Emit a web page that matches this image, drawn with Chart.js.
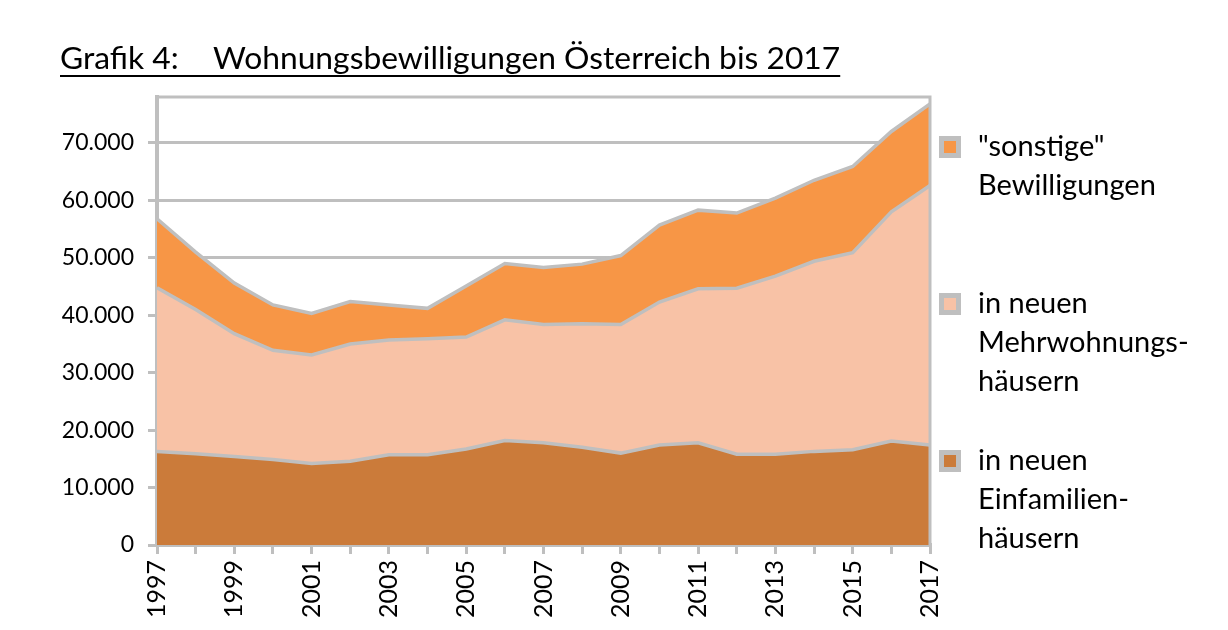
<!DOCTYPE html>
<html><head><meta charset="utf-8">
<script src="https://cdn.jsdelivr.net/npm/chart.js@4.4.1/dist/chart.umd.min.js"></script>
<style>html,body{margin:0;padding:0;background:#fff;}#wrap{width:1228px;height:630px;position:relative;}</style>
</head><body><div id="wrap"><canvas id="c" width="1228" height="630"></canvas></div>
<script>
const years = ['1997','1998','1999','2000','2001','2002','2003','2004','2005','2006','2007','2008','2009','2010','2011','2012','2013','2014','2015','2016','2017'];
const einfamilien = [16300,15900,15400,14900,14200,14600,15700,15700,16700,18200,17800,17000,16000,17400,17800,15800,15800,16300,16600,18100,17400];
const mehrwohnungs = [28500,25100,21400,19000,18900,20400,20000,20200,19500,21000,20600,21500,22400,24900,26800,28900,31000,33100,34300,39900,45200];
const sonstige = [12000,10000,8800,7900,7200,7400,6100,5300,8900,9800,9900,10400,12000,13400,13700,13100,13600,14100,15000,14000,14200];
const yTickValues = [0,10000,20000,30000,40000,50000,60000,70000];
const titleLeft = 'Grafik 4:';
const titleRight = 'Wohnungsbewilligungen Österreich bis 2017';
const legendEntries = [
  {lines:['"sonstige"','Bewilligungen'], ds:2},
  {lines:['in neuen','Mehrwohnungs-','häusern'], ds:1},
  {lines:['in neuen','Einfamilien-','häusern'], ds:0}
];

const GRAY = '#BFBFBF';
const FONT = 'Lato, "Open Sans", sans-serif';
const fmt = v => String(v).replace(/\B(?=(\d{3})+(?!\d))/g, '.');

const decor = {
  id: 'decor',
  afterDraw(chart) {
    const ctx = chart.ctx, a = chart.chartArea;
    ctx.save();
    ctx.strokeStyle = GRAY; ctx.lineWidth = 3;
    ctx.beginPath();
    ctx.moveTo(a.left, a.top); ctx.lineTo(a.right, a.top); ctx.lineTo(a.right, a.bottom);
    ctx.stroke();
    // title
    ctx.fillStyle = '#000';
    ctx.font = '31.8px ' + FONT;
    ctx.textBaseline = 'alphabetic';
    ctx.fillText(titleLeft, 60, 69);
    ctx.fillText(titleRight, 213, 69);
    const endX = 213 + ctx.measureText(titleRight).width;
    ctx.strokeStyle = '#000'; ctx.lineWidth = 2;
    ctx.beginPath(); ctx.moveTo(60, 76); ctx.lineTo(endX, 76); ctx.stroke();
    // legend
    const centers = [147, 304, 461];
    ctx.font = '29px ' + FONT;
    ctx.textBaseline = 'middle';
    legendEntries.forEach((e, i) => {
      const cy = centers[i];
      const ds = chart.data.datasets[e.ds];
      ctx.fillStyle = GRAY; ctx.fillRect(939, cy - 11, 22, 22);
      ctx.fillStyle = ds.backgroundColor; ctx.fillRect(944, cy - 6, 12, 12);
      ctx.fillStyle = '#000';
      e.lines.forEach((t, j) => ctx.fillText(t, 978, cy + j * 39));
    });
    ctx.restore();
  }
};

new Chart(document.getElementById('c'), {
  type: 'line',
  data: {
    labels: years,
    datasets: [
      {label:'in neuen Einfamilienhäusern', data: einfamilien, backgroundColor:'#CB7B3A', borderColor: GRAY, borderWidth:3.5, fill:'origin', pointRadius:0, tension:0},
      {label:'in neuen Mehrwohnungshäusern', data: mehrwohnungs, backgroundColor:'#F8C2A6', borderColor: GRAY, borderWidth:3.5, fill:'-1', pointRadius:0, tension:0},
      {label:'"sonstige" Bewilligungen', data: sonstige, backgroundColor:'#F79646', borderColor: GRAY, borderWidth:3.5, fill:'-1', pointRadius:0, tension:0}
    ]
  },
  options: {
    responsive: false,
    animation: false,
    devicePixelRatio: 1,
    layout: {padding: {left: 0, top: 97, right: 298, bottom: 0}},
    plugins: {legend: {display:false}, tooltip: {enabled:false}, title:{display:false}},
    scales: {
      x: {
        offset: false,
        grid: {drawOnChartArea:false, drawTicks:true, tickLength:9, color: GRAY, lineWidth:3},
        border: {display:true, color: GRAY, width:4},
        ticks: {autoSkip:false, maxRotation:90, minRotation:90, padding:6, color:'#000', font:{family:FONT, size:25},
          callback: function(v, i){ return i % 2 === 0 ? years[i] : ''; }},
        afterFit: s => { s.height = 85; }
      },
      y: {
        stacked: true, min: 0, max: 78000,
        afterBuildTicks: s => { s.ticks = yTickValues.map(v => ({value:v})); },
        grid: {color: GRAY, lineWidth:3, tickLength:9, drawTicks:true},
        border: {display:true, color: GRAY, width:4},
        ticks: {padding:14, color:'#000', font:{family:FONT, size:23}, callback: v => fmt(v)},
        afterFit: s => { s.width = 157; }
      }
    }
  },
  plugins: [decor]
});
</script></body></html>
